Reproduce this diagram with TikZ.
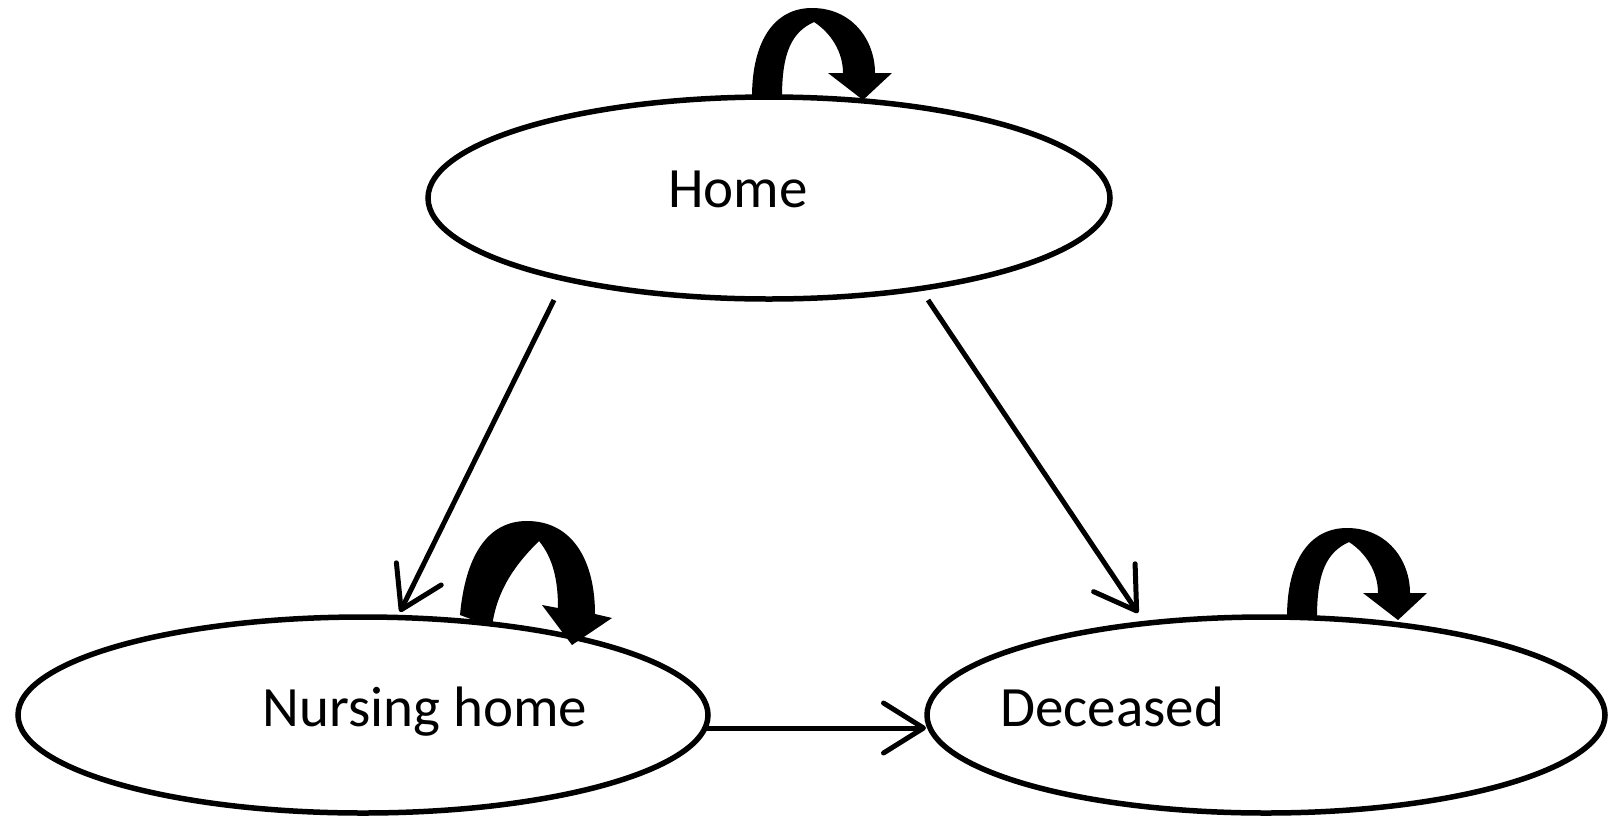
\documentclass[tikz,border=0pt]{standalone}
\usepackage{fontspec}
\setmainfont{Carlito}
\usetikzlibrary{shapes.geometric,arrows.meta}
\tikzset{
  state/.style={draw, ellipse, line width=5.5pt, inner sep=0pt},
  lbl/.style={anchor=base, inner sep=0pt, font=\fontsize{57}{68}\selectfont},
  trans/.style={line width=5pt, -{Straight Barb[length=40pt,width=50pt,round]}},
  loopfill/.style={fill=black}
}
\newcommand{\selfloop}{%
  \fill[loopfill] (0,0) .. controls (0,-57) and (23,-89) .. (60,-89)
    .. controls (100,-89) and (123,-57) .. (123,-24) -- (140,-24) -- (111,3)
    -- (76,-24) -- (91,-24) .. controls (91,-45) and (79,-64) .. (62,-75)
    .. controls (40,-65) and (30,-45) .. (30,0) -- cycle;}
\begin{document}
\begin{tikzpicture}[x=1pt,y=-1pt]
\useasboundingbox (0,0) rectangle (1608,817);
% states
\node[state, minimum width=682pt, minimum height=202pt] (home) at (769,198) {};
\node[state, minimum width=690pt, minimum height=196pt] (nurs) at (363,715) {};
\node[state, minimum width=678pt, minimum height=196pt] (dec) at (1266,715) {};
% labels
\node[lbl] (homet) at (738,207) {Home};
\node[lbl] (nurst) at (425,726) {Nursing home};
\node[lbl] (dect) at (1112,726) {Deceased};
% transitions
\coordinate (hn1) at (554,300);
\coordinate (hn2) at (400,612);
\coordinate (hd1) at (928,300);
\coordinate (hd2) at (1138,613);
\coordinate (nd1) at (705,728);
\coordinate (nd2) at (926,728);
\draw[trans] (hn1) -- (hn2);
\draw[trans] (hd1) -- (hd2);
\draw[trans] (nd1) -- (nd2);
% self loops
\begin{scope}[shift={(752,97)}]\selfloop\end{scope}
\begin{scope}[shift={(1287,617)}]\selfloop\end{scope}
\fill[loopfill] (460,615) .. controls (465,560) and (485,521) .. (527,521)
  .. controls (572,521) and (595,560) .. (595,614) -- (612,618) -- (572,645)
  -- (542,605) -- (558,608) .. controls (558,580) and (553,558) .. (539,541)
  .. controls (522,558) and (497,585) .. (492,627) -- cycle;
\end{tikzpicture}
\end{document}
